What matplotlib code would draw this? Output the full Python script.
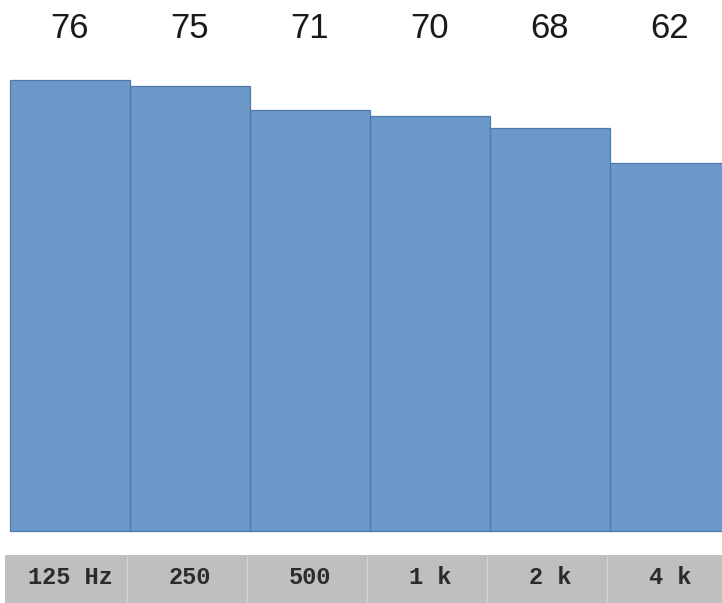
import matplotlib
matplotlib.use("Agg")
import matplotlib.pyplot as plt
from matplotlib.transforms import blended_transform_factory
from matplotlib.patches import Rectangle

bands = ["125 Hz", "250", "500", "1 k", "2 k", "4 k"]
levels = [76, 75, 71, 70, 68, 62]

fig = plt.figure(figsize=(7.22, 6.03), dpi=100)
ax = fig.add_axes([0, 0, 1, 1])

px_per_unit = 5.93
left_px = 10
ax.set_xlim(-left_px / 120, (722 - left_px) / 120)
ax.set_ylim(-72 / px_per_unit, 531 / px_per_unit)
ax.axis("off")

xs = list(range(len(levels)))
ax.bar(xs, levels, width=1.0, align="edge", color="#6b98c8",
       edgecolor="#4f7aab", linewidth=0.9, zorder=2)

tr = blended_transform_factory(ax.transData, ax.transAxes)

# value labels above the bars
for x, v in zip(xs, levels):
    ax.text(x + 0.5, 1 - 28 / 603, f"{v}", transform=tr, ha="center",
            va="center", fontsize=25, family="Liberation Sans", color="#1a1a1a")

# grey strip with band names
strip_h = 48 / 603
ax.add_patch(Rectangle((-5 / 120, 0), 5 / 120 + len(levels) + 1, strip_h,
                       transform=tr, facecolor="#bfbfbf", edgecolor="none",
                       zorder=1, clip_on=False))
for x in xs[1:]:
    ax.plot([x - 0.025, x - 0.025], [0, strip_h], transform=tr,
            color="#d3d3d3", linewidth=1.0, zorder=1.5)
for x, b in zip(xs, bands):
    ax.text(x + 0.5, 26 / 603, b, transform=tr, ha="center", va="center",
            fontsize=17, family="Liberation Mono", fontweight="bold",
            color="#2b2b2b")

fig.savefig("out.png", dpi=100)
